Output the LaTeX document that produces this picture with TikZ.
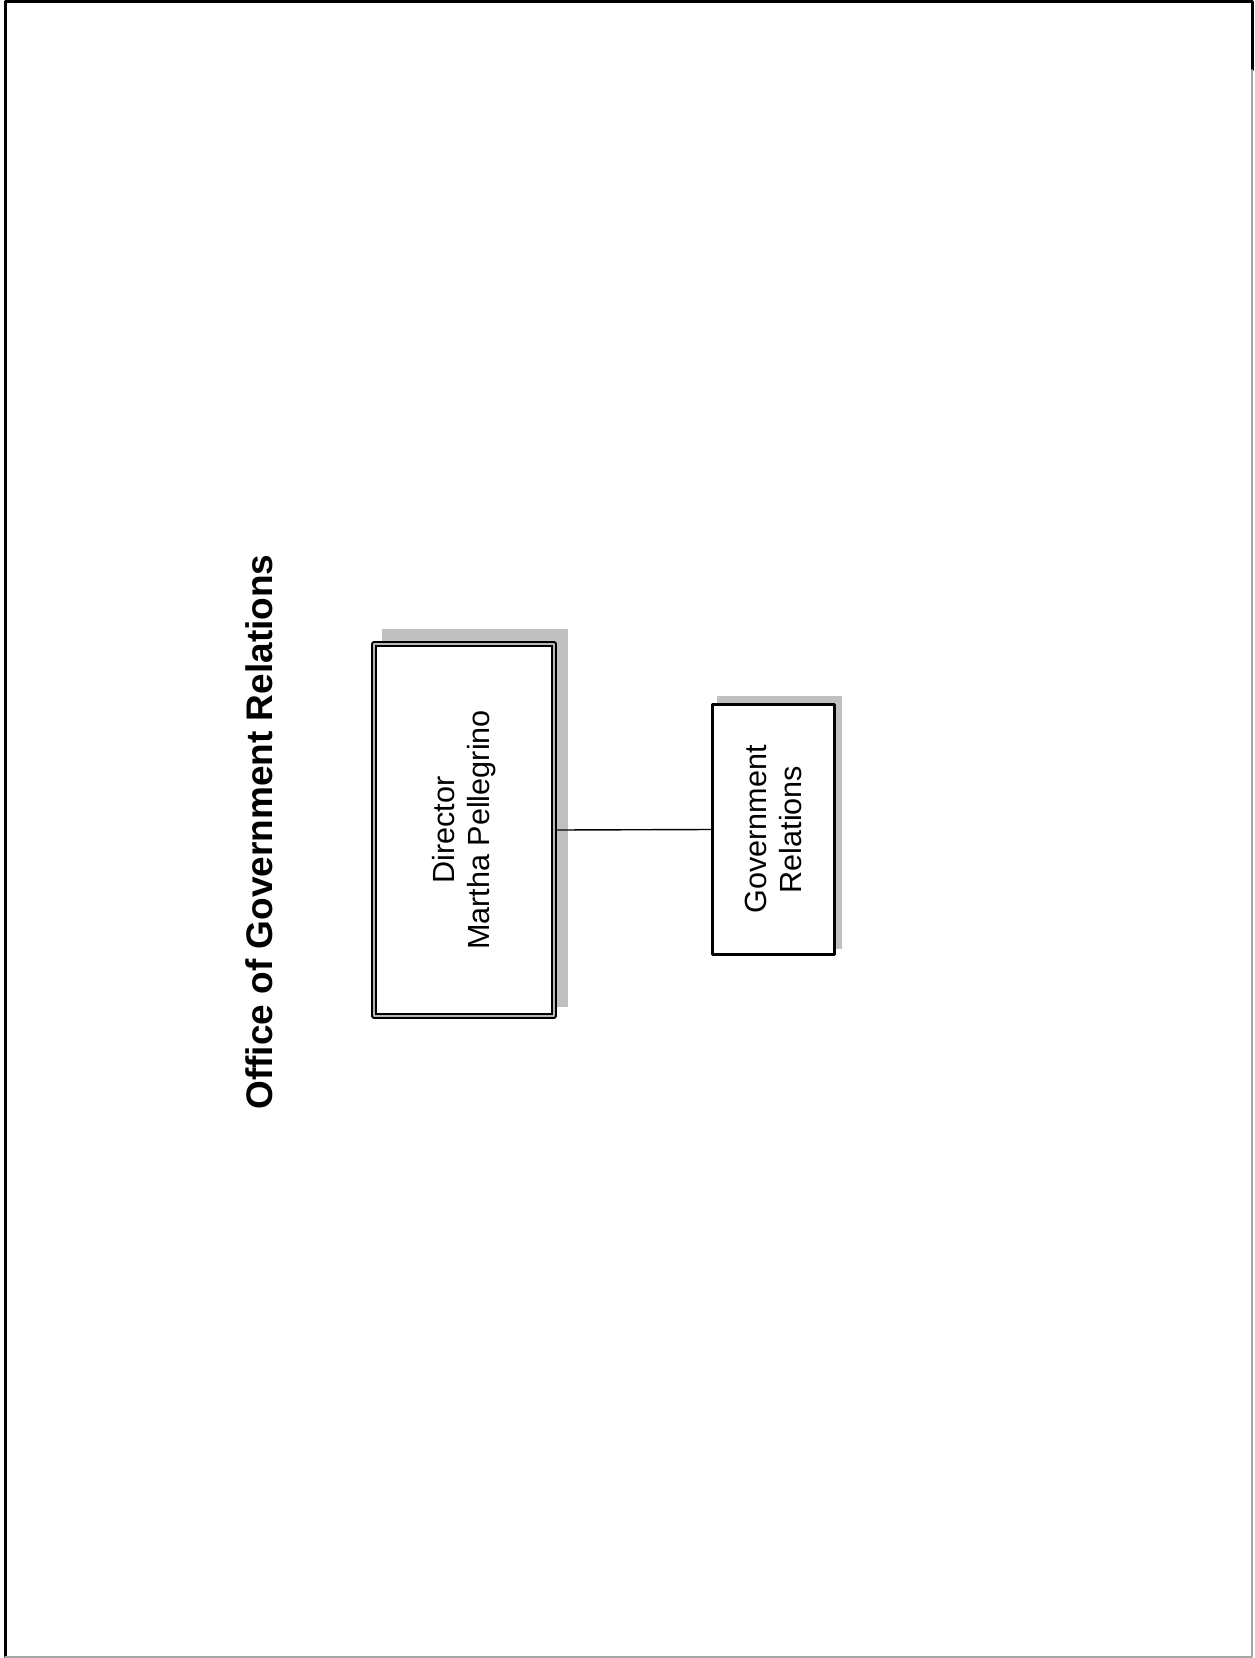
\documentclass[tikz,border=0pt]{standalone}
\usepackage{fontspec}
\setmainfont{Liberation Sans}
\usetikzlibrary{positioning,backgrounds}
\definecolor{shadowgray}{RGB}{192,192,192}
\definecolor{edgegray}{RGB}{165,165,165}
\tikzset{
  orgbox/.style={draw,fill=white,line width=1.4pt,inner sep=0pt},
  dirbox/.style={orgbox,line width=1.1pt,double=gray!55,double distance=1pt,outer sep=1.6pt},
  boxtext/.style={rotate=90,align=center,font=\fontsize{15.3}{17.5}\selectfont},
  boxshadow/.style={fill=shadowgray},
  orgtitle/.style={rotate=90,font=\bfseries\fontsize{18.5}{22}\selectfont},
  orglink/.style={line width=0.7pt}
}
\begin{document}
\begin{tikzpicture}[x=0.5pt,y=-0.5pt,line cap=round,line join=round]
 \useasboundingbox (0,0) rectangle (1254,1658);
 \draw[line width=1.5pt] (5,1658) -- (5,2) -- (1252,2) -- (1252,70);
 \draw[edgegray,line width=0.8pt] (1252,70) -- (1252,1657) -- (5,1657);
 \node[orgtitle] (title) at (259,832) {Office of Government Relations};
 \node[dirbox,minimum width=89.8pt,minimum height=185.8pt,
  label={[boxtext]center:{Director\\Martha Pellegrino}}] (director) at (464,830) {};
 \node[orgbox,minimum width=61.1pt,minimum height=125.1pt,
  label={[boxtext]center:{Government\\Relations}}] (govrel) at (773.5,829.5) {};
 \begin{scope}[on background layer]
  \fill[boxshadow] ([shift={(11,-12)}]director.south west)
   rectangle ([shift={(11,-12)}]director.north east);
  \fill[boxshadow] ([shift={(6,-7)}]govrel.south west)
   rectangle ([shift={(6,-7)}]govrel.north east);
 \end{scope}
 \draw[orglink] (director.east) -- (govrel.west);
\end{tikzpicture}
\end{document}
